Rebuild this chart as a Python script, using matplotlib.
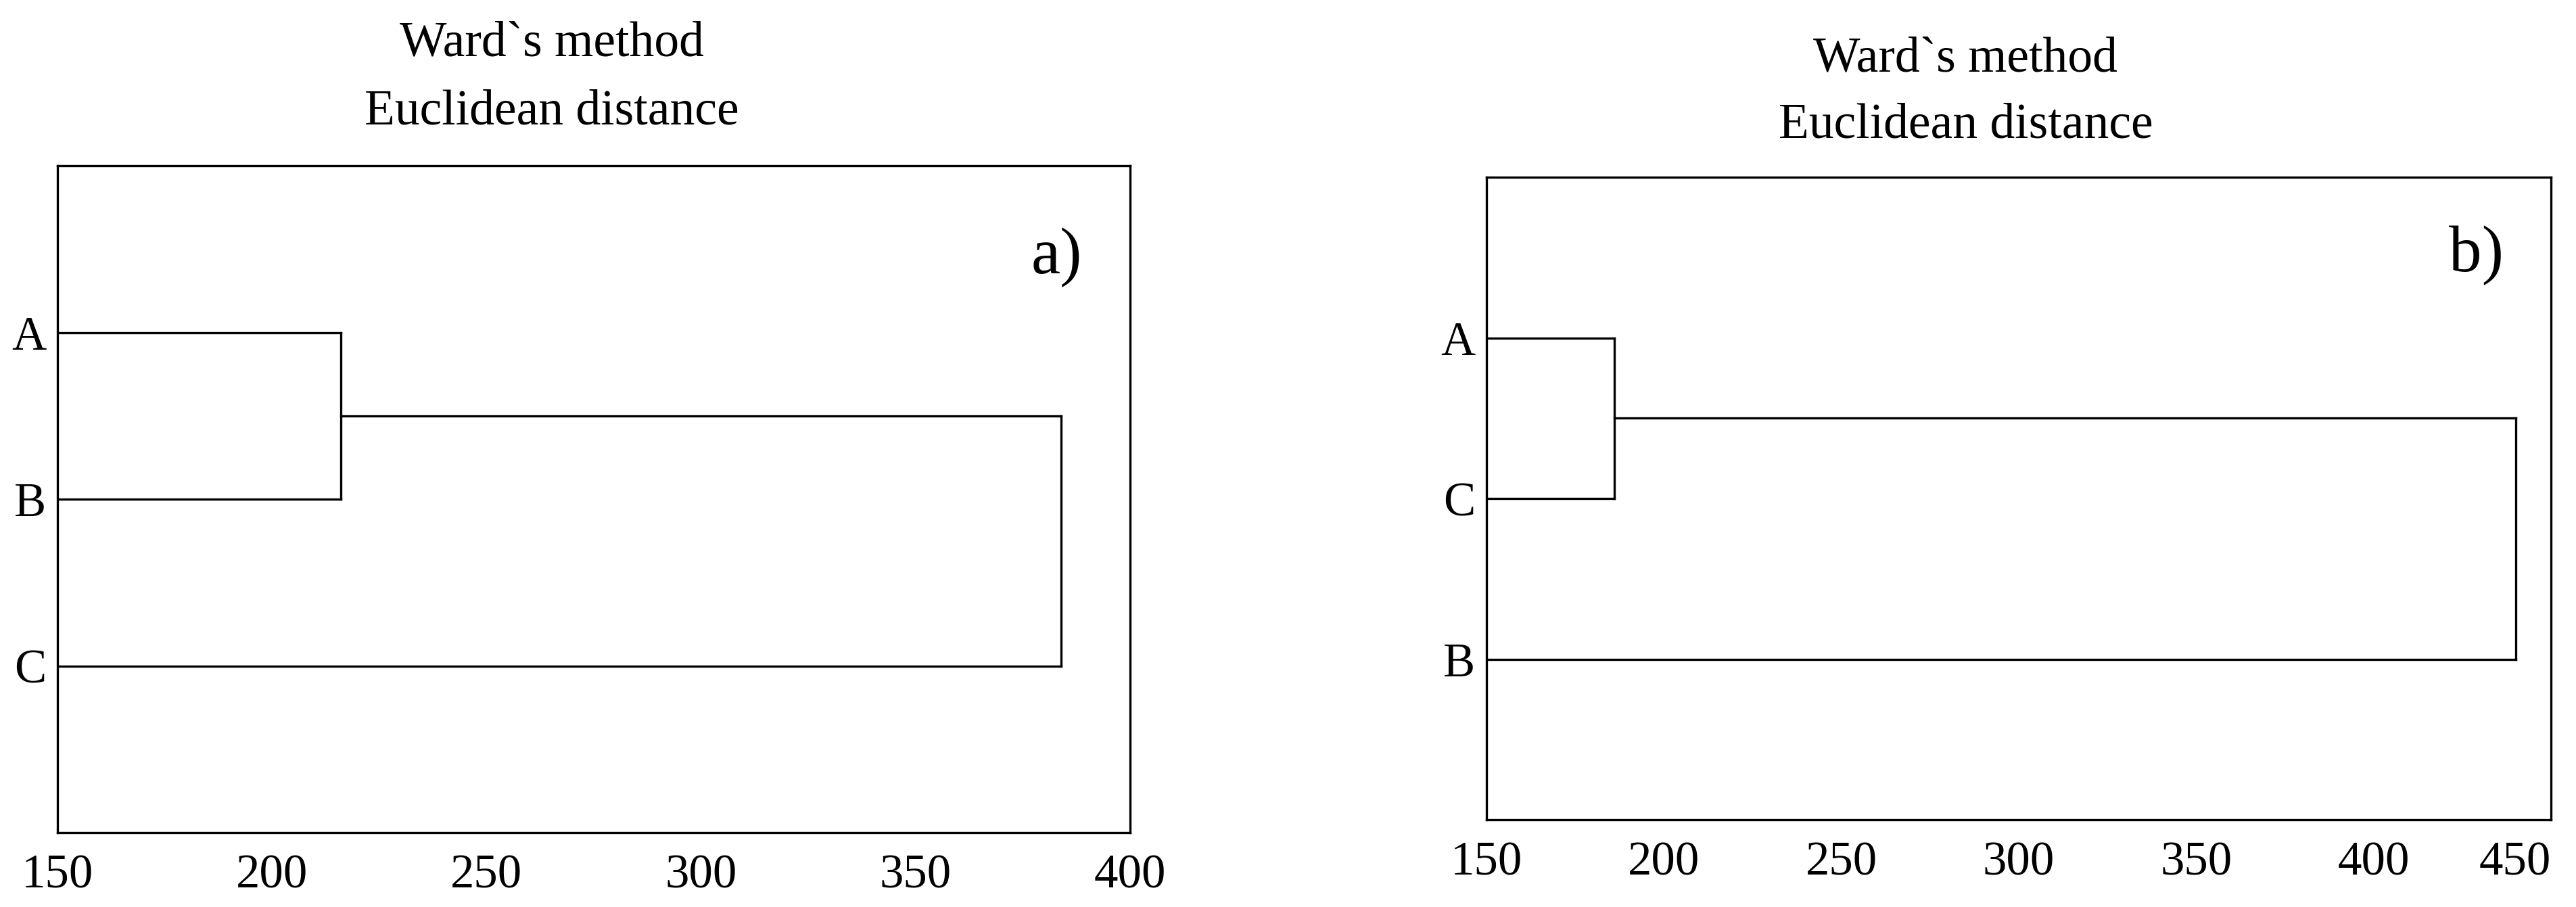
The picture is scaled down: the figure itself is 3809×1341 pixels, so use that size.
import matplotlib.pyplot as plt

plt.rcParams['font.family'] = ['Liberation Serif', 'DejaVu Serif']

# panel a): leaves top to bottom and merge distances
a_labels = ['A', 'B', 'C']
a_merges = [216, 384]
a_xticks = [150, 200, 250, 300, 350, 400]

# panel b)
b_labels = ['A', 'C', 'B']
b_merges = [186, 440]
b_xticks = [150, 200, 250, 300, 350, 400, 450]

title_lines = ['Ward`s method', 'Euclidean distance']

fig = plt.figure(figsize=(38.09, 13.41), dpi=100)
ax_a = fig.add_axes([0.0223, 0.0820, 0.4164, 0.7353])
ax_b = fig.add_axes([0.5771, 0.0962, 0.4132, 0.7084])

lw = 2.4


def draw_dendro(ax, labels, merges, xticks, tag, title_x, tag_x, tag_y):
    x0 = xticks[0]
    ypos = [3, 2, 1]
    # first two leaves join at merges[0]
    ax.plot([x0, merges[0]], [ypos[0], ypos[0]], color='black', lw=lw)
    ax.plot([x0, merges[0]], [ypos[1], ypos[1]], color='black', lw=lw)
    ax.plot([merges[0], merges[0]], [ypos[0], ypos[1]], color='black', lw=lw)
    mid = (ypos[0] + ypos[1]) / 2
    # the cluster joins the last leaf at merges[1]
    ax.plot([merges[0], merges[1]], [mid, mid], color='black', lw=lw)
    ax.plot([x0, merges[1]], [ypos[2], ypos[2]], color='black', lw=lw)
    ax.plot([merges[1], merges[1]], [mid, ypos[2]], color='black', lw=lw)

    ax.set_xlim(xticks[0], xticks[-1])
    ax.set_ylim(0, 4)
    ax.set_xticks(xticks)
    ax.set_xticklabels([str(t) for t in xticks])
    ax.set_yticks(ypos)
    ax.set_yticklabels(labels)
    ax.tick_params(axis='x', length=0, pad=23, labelsize=51)
    ax.tick_params(axis='y', length=0, pad=12, labelsize=51)
    for s in ax.spines.values():
        s.set_linewidth(lw)

    ax.text(title_x, 1.165, title_lines[0], transform=ax.transAxes,
            ha='center', va='baseline', fontsize=53)
    ax.text(title_x, 1.062, title_lines[1], transform=ax.transAxes,
            ha='center', va='baseline', fontsize=53)
    ax.text(tag_x, tag_y, tag, transform=ax.transAxes,
            ha='left', va='baseline', fontsize=70)


draw_dendro(ax_a, a_labels, a_merges, a_xticks, 'a)', 0.461, 0.908, 0.839)
draw_dendro(ax_b, b_labels, b_merges, b_xticks, 'b)', 0.450, 0.904, 0.853)

# keep the last label of panel b inside the figure
ax_b.get_xticklabels()[-1].set_horizontalalignment('right')

fig.savefig('out.png', dpi=100)
